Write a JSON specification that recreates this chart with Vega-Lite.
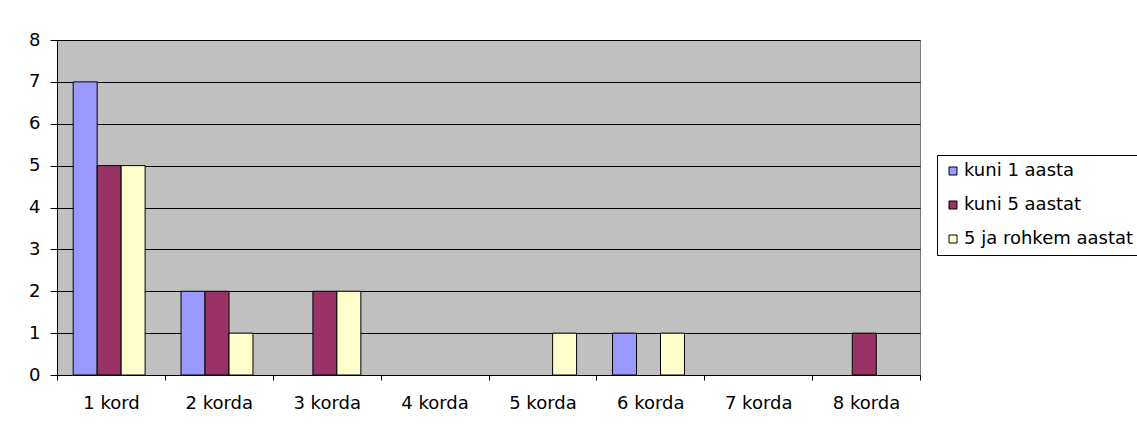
{
  "$schema": "https://vega.github.io/schema/vega-lite/v6.json",
  "autosize": "none",
  "padding": {"left": 57, "top": 40, "right": 217, "bottom": 59},
  "width": 863,
  "height": 335,
  "background": "white",
  "config": {
    "font": "DejaVu Sans",
    "view": {"fill": "#c0c0c0", "stroke": "#808080", "strokeWidth": 1}
  },
  "data": {
    "values": [
      {"kord": "1 kord", "grupp": "kuni 1 aasta", "arv": 7},
      {"kord": "1 kord", "grupp": "kuni 5 aastat", "arv": 5},
      {"kord": "1 kord", "grupp": "5 ja rohkem aastat", "arv": 5},
      {"kord": "2 korda", "grupp": "kuni 1 aasta", "arv": 2},
      {"kord": "2 korda", "grupp": "kuni 5 aastat", "arv": 2},
      {"kord": "2 korda", "grupp": "5 ja rohkem aastat", "arv": 1},
      {"kord": "3 korda", "grupp": "kuni 1 aasta", "arv": 0},
      {"kord": "3 korda", "grupp": "kuni 5 aastat", "arv": 2},
      {"kord": "3 korda", "grupp": "5 ja rohkem aastat", "arv": 2},
      {"kord": "4 korda", "grupp": "kuni 1 aasta", "arv": 0},
      {"kord": "4 korda", "grupp": "kuni 5 aastat", "arv": 0},
      {"kord": "4 korda", "grupp": "5 ja rohkem aastat", "arv": 0},
      {"kord": "5 korda", "grupp": "kuni 1 aasta", "arv": 0},
      {"kord": "5 korda", "grupp": "kuni 5 aastat", "arv": 0},
      {"kord": "5 korda", "grupp": "5 ja rohkem aastat", "arv": 1},
      {"kord": "6 korda", "grupp": "kuni 1 aasta", "arv": 1},
      {"kord": "6 korda", "grupp": "kuni 5 aastat", "arv": 0},
      {"kord": "6 korda", "grupp": "5 ja rohkem aastat", "arv": 1},
      {"kord": "7 korda", "grupp": "kuni 1 aasta", "arv": 0},
      {"kord": "7 korda", "grupp": "kuni 5 aastat", "arv": 0},
      {"kord": "7 korda", "grupp": "5 ja rohkem aastat", "arv": 0},
      {"kord": "8 korda", "grupp": "kuni 1 aasta", "arv": 0},
      {"kord": "8 korda", "grupp": "kuni 5 aastat", "arv": 1},
      {"kord": "8 korda", "grupp": "5 ja rohkem aastat", "arv": 0}
    ]
  },
  "transform": [{"filter": "datum.arv > 0"}],
  "mark": {"type": "bar", "stroke": "black", "strokeWidth": 1},
  "encoding": {
    "x": {
      "field": "kord",
      "type": "nominal",
      "sort": ["1 kord", "2 korda", "3 korda", "4 korda", "5 korda", "6 korda", "7 korda", "8 korda"],
      "title": null,
      "scale": {"domain": ["1 kord", "2 korda", "3 korda", "4 korda", "5 korda", "6 korda", "7 korda", "8 korda"], "paddingInner": 0, "paddingOuter": 0},
      "axis": {
        "labelAngle": 0,
        "labelFontSize": 18,
        "labelColor": "black",
        "labelPadding": 14,
        "tickBand": "extent",
        "tickSize": 5,
        "tickColor": "black",
        "domainColor": "black",
        "grid": false
      }
    },
    "xOffset": {
      "field": "grupp",
      "type": "nominal",
      "sort": ["kuni 1 aasta", "kuni 5 aastat", "5 ja rohkem aastat"],
      "scale": {"domain": ["kuni 1 aasta", "kuni 5 aastat", "5 ja rohkem aastat"], "paddingInner": 0, "paddingOuter": 0.75, "align": 0.45}
    },
    "y": {
      "field": "arv",
      "type": "quantitative",
      "title": null,
      "scale": {"domain": [0, 8], "nice": false},
      "axis": {
        "values": [0, 1, 2, 3, 4, 5, 6, 7, 8],
        "labelFontSize": 18,
        "labelColor": "black",
        "labelPadding": 10,
        "tickSize": 7,
        "tickColor": "black",
        "domainColor": "black",
        "gridColor": "black",
        "gridOpacity": 1,
        "gridWidth": 1
      }
    },
    "color": {
      "field": "grupp",
      "type": "nominal",
      "sort": ["kuni 1 aasta", "kuni 5 aastat", "5 ja rohkem aastat"],
      "scale": {
        "domain": ["kuni 1 aasta", "kuni 5 aastat", "5 ja rohkem aastat"],
        "range": ["#9999ff", "#993366", "#ffffcc"]
      },
      "legend": {
        "title": null,
        "orient": "none",
        "legendX": 880,
        "legendY": 115,
        "strokeColor": "black",
        "fillColor": "white",
        "padding": 7,
        "symbolType": "square",
        "symbolSize": 64,
        "symbolStrokeColor": "black",
        "symbolStrokeWidth": 1,
        "labelFontSize": 18,
        "labelColor": "black",
        "labelOffset": 2,
        "labelLimit": 400,
        "rowPadding": 16
      }
    }
  }
}
